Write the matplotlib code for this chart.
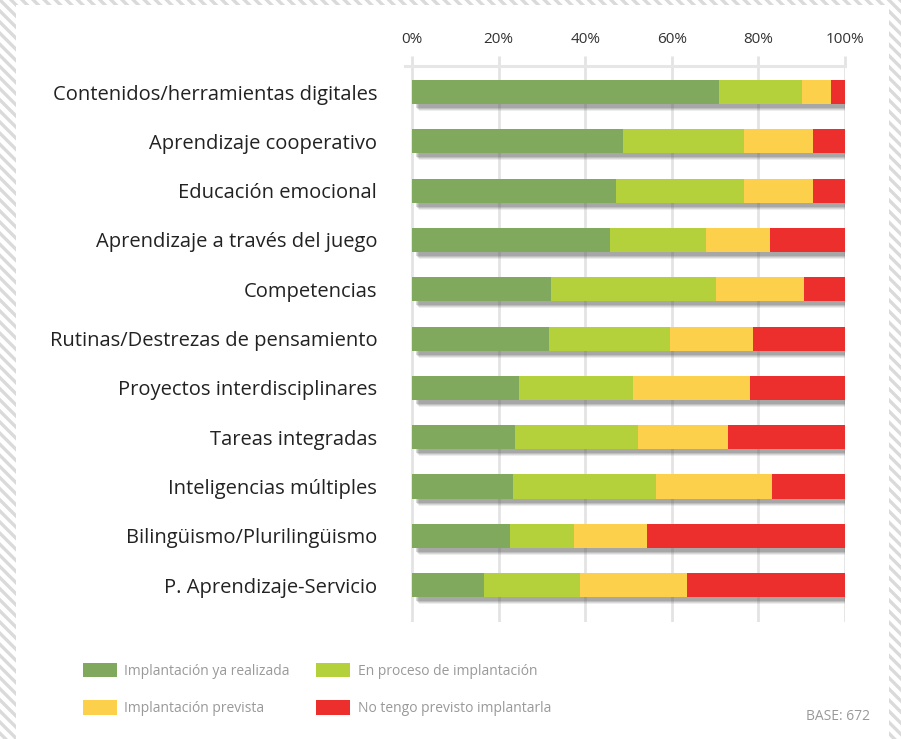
import matplotlib
matplotlib.use("Agg")
import matplotlib.pyplot as plt
from matplotlib.patches import Rectangle, Patch
from matplotlib.transforms import offset_copy

plt.rcParams["font.family"] = ["Open Sans", "DejaVu Sans"]
plt.rcParams["hatch.linewidth"] = 2.4
plt.rcParams["hatch.color"] = "#DADADA"

categories = [
    "Contenidos/herramientas digitales",
    "Aprendizaje cooperativo",
    "Educación emocional",
    "Aprendizaje a través del juego",
    "Competencias",
    "Rutinas/Destrezas de pensamiento",
    "Proyectos interdisciplinares",
    "Tareas integradas",
    "Inteligencias múltiples",
    "Bilingüismo/Plurilingüismo",
    "P. Aprendizaje-Servicio",
]
realizada = [70.9, 48.7, 47.1, 45.7, 32.1, 31.6, 24.7, 23.8, 23.3, 22.6, 16.6]
en_proceso = [19.2, 28.0, 29.6, 22.2, 38.1, 28.0, 26.3, 28.4, 33.1, 14.8, 22.2]
prevista = [6.7, 15.9, 15.9, 14.8, 20.3, 19.2, 27.1, 20.8, 26.7, 16.9, 24.7]
no_prevista = [3.2, 7.4, 7.4, 17.3, 9.5, 21.2, 21.9, 27.0, 16.9, 45.7, 36.5]

series = [
    ("Implantación ya realizada", realizada, "#80A95D"),
    ("En proceso de implantación", en_proceso, "#B4D03B"),
    ("Implantación prevista", prevista, "#FCD04B"),
    ("No tengo previsto implantarla", no_prevista, "#EC2F2D"),
]
xticks = [0, 20, 40, 60, 80, 100]
xtick_labels = ["0%", "20%", "40%", "60%", "80%", "100%"]
base_note = "BASE: 672"

W, H = 901, 739
fig = plt.figure(figsize=(W / 100, H / 100), dpi=100)
fig.patch.set_facecolor("white")

# striped frame + white panel
fig.patches.append(Rectangle((0, 0), 1, 1, transform=fig.transFigure,
                             facecolor="white", edgecolor="#DADADA", hatch="\\\\\\",
                             linewidth=0, zorder=-10))
fig.patches.append(Rectangle((16 / W, 0), (889 - 16) / W, (H - 5) / H,
                             transform=fig.transFigure, facecolor="white",
                             edgecolor="none", zorder=-9))

ax = fig.add_axes([405 / W, 1 - 622 / H, 440 / W, (622 - 66) / H])
ax.set_facecolor("none")
n = len(categories)
ypos = list(range(n))
bar_h = 0.49

# soft shadow under each bar
totals = [a + b + c + d for a, b, c, d in zip(realizada, en_proceso, prevista, no_prevista)]
for dx, dy, alpha in [(7, -7, 0.10), (6, -6, 0.14), (5, -5, 0.18), (4, -4, 0.22)]:
    tr = offset_copy(ax.transData, fig=fig, x=dx, y=dy, units="dots")
    ax.barh(ypos, totals, height=bar_h, color="#555555", alpha=alpha,
            transform=tr, zorder=2, linewidth=0)

left = [0] * n
for label, vals, color in series:
    ax.barh(ypos, vals, left=left, height=bar_h, color=color, label=label,
            zorder=3, linewidth=0)
    left = [l + v for l, v in zip(left, vals)]

ax.set_xlim(-1.6, 100)
ax.set_ylim(n - 1 + 0.75, -0.53)
ax.set_yticks(ypos)
ax.set_yticklabels(categories, fontsize=14.5, color="#222222")
ax.tick_params(axis="y", length=0, pad=20)

ax.xaxis.tick_top()
ax.set_xticks(xticks)
ax.set_xticklabels(xtick_labels, fontsize=11, color="#333333")
ax.tick_params(axis="x", length=7.5, width=2, color="#E3E3E3", pad=6)
ax.grid(axis="x", color="#E3E3E3", linewidth=2, zorder=1)
ax.set_axisbelow(True)

for s in ["bottom", "left", "right"]:
    ax.spines[s].set_visible(False)
ax.spines["top"].set_color("#E6E6E6")
ax.spines["top"].set_linewidth(2.2)

# legend filled column-wise: order so rows read realizada/en proceso, prevista/no
handles = [Patch(facecolor=c, edgecolor="none", label=l) for l, _, c in series]
handles = [handles[0], handles[2], handles[1], handles[3]]
leg = fig.legend(handles=handles, ncol=2, loc="upper left",
                 bbox_to_anchor=(73 / W, 1 - 653 / H), frameon=False,
                 fontsize=10, handlelength=2.45, handleheight=1.25,
                 handletextpad=0.55, columnspacing=1.9, labelspacing=1.55,
                 borderpad=0.2)
for t in leg.get_texts():
    t.set_color("#999999")

fig.text(870 / W, 1 - 716 / H, base_note, ha="right", va="center",
         fontsize=10, color="#999999")

fig.savefig("out.png", dpi=100)
